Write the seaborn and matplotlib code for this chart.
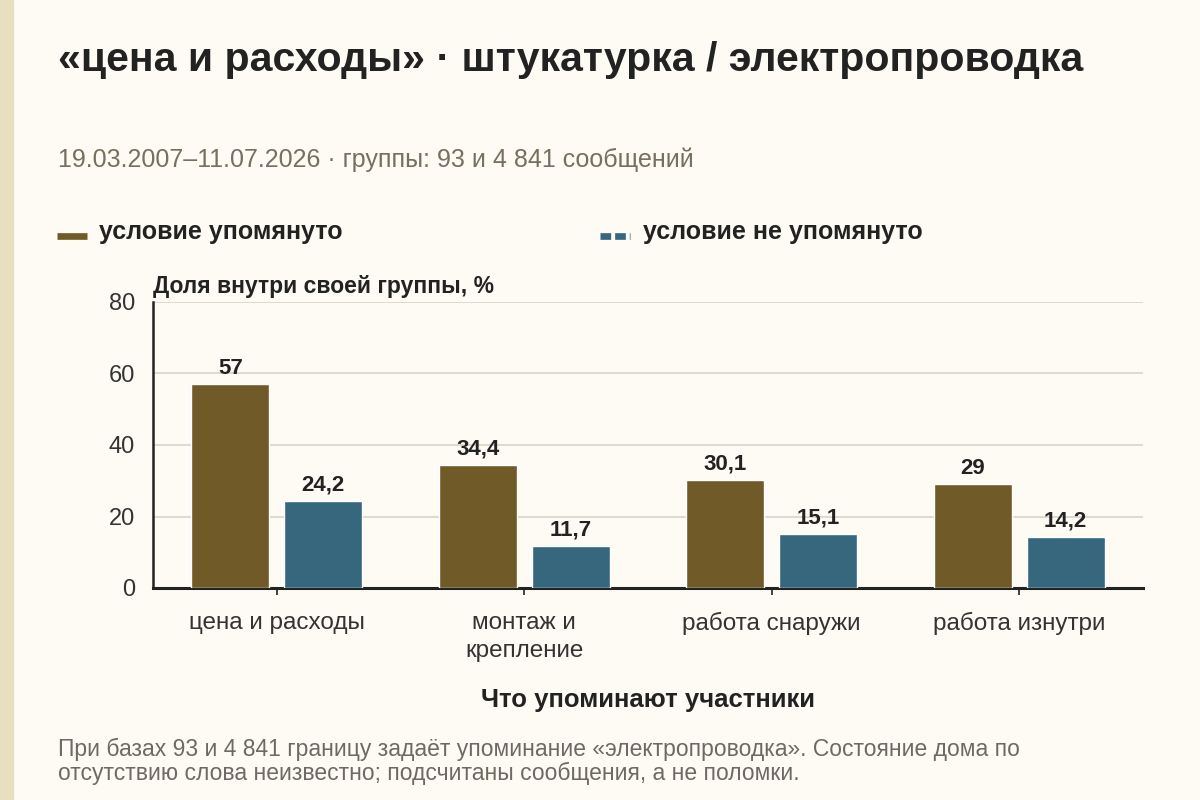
import pandas as pd
import matplotlib.pyplot as plt
import seaborn as sns
from matplotlib.lines import Line2D
from matplotlib.patches import Rectangle

# Data
categories = ['цена и расходы', 'монтаж и\nкрепление', 'работа снаружи', 'работа изнутри']
mentioned = [57, 34.4, 30.1, 29]
not_mentioned = [24.2, 11.7, 15.1, 14.2]
series = ['условие упомянуто', 'условие не упомянуто']
colors = ['#6f5a28', '#36677d']

df = pd.DataFrame({
    'category': categories * 2,
    'group': [series[0]] * 4 + [series[1]] * 4,
    'value': mentioned + not_mentioned,
})

bg = '#fdfbf3'
dark = '#222222'
sns.set_theme(style='white')
plt.rcParams['font.family'] = ['Liberation Sans', 'DejaVu Sans']

fig = plt.figure(figsize=(12, 8), dpi=100, facecolor=bg)
ax = fig.add_axes([0.1275, 0.265, 0.825, 0.3575])
ax.set_facecolor(bg)

# beige strip on the left edge
fig.add_artist(Rectangle((0, 0), 13 / 1200, 1, transform=fig.transFigure,
                         color='#e8dfc0', zorder=0))

sns.barplot(data=df, x='category', y='value', hue='group', palette=colors,
            width=0.75, gap=0.16, saturation=1, legend=False, ax=ax, zorder=3)

for cont in ax.containers:
    labels = [f'{b.get_height():g}'.replace('.', ',') for b in cont]
    ax.bar_label(cont, labels=labels, padding=4, fontsize=16,
                 fontweight='bold', color=dark)

ax.set_ylim(0, 80)
ax.set_xlim(-0.5, 3.5)
ax.set_yticks([0, 20, 40, 60, 80])
ax.yaxis.grid(True, color='#d8d4c8', linewidth=1.2, zorder=0)
ax.set_axisbelow(True)
for s in ['top', 'right']:
    ax.spines[s].set_visible(False)
ax.spines['left'].set_color(dark)
ax.spines['left'].set_linewidth(1.8)
ax.spines['bottom'].set_color(dark)
ax.spines['bottom'].set_linewidth(2.2)
ax.tick_params(axis='y', length=0, pad=13, labelsize=17, labelcolor='#333333')
ax.tick_params(axis='x', length=5, width=1.2, color=dark, pad=12,
               labelsize=17.5, labelcolor='#333333', bottom=True)
for lbl in ax.get_xticklabels():
    lbl.set_linespacing(1.4)
ax.set_xlabel('Что упоминают участники', fontsize=18.5, fontweight='bold',
              color=dark, va='center')
ax.xaxis.set_label_coords(0.5, -0.392)
ax.set_ylabel('')

fig.text(153 / 1200, 1 - 286 / 800, 'Доля внутри своей группы, %',
         fontsize=16.5, fontweight='bold', color=dark, ha='left', va='center')

# titles
fig.text(58 / 1200, 1 - 60 / 800, '«цена и расходы» · штукатурка / электропроводка',
         fontsize=29.5, fontweight='bold', color=dark, ha='left', va='center')
fig.text(58 / 1200, 1 - 160 / 800, '19.03.2007–11.07.2026 · группы: 93 и 4 841 сообщений',
         fontsize=18, color='#767060', ha='left', va='center')

# legend
ly = 1 - 236 / 800
fig.add_artist(Line2D([57 / 1200, 87 / 1200], [ly, ly], transform=fig.transFigure,
                      color=colors[0], linewidth=4.8, solid_capstyle='butt'))
fig.text(99 / 1200, 1 - 232 / 800, series[0], fontsize=18, fontweight='bold',
         color=dark, ha='left', va='center')
fig.add_artist(Line2D([600 / 1200, 630 / 1200], [ly, ly], transform=fig.transFigure,
                      color=colors[1], linewidth=4.8, linestyle=(0, (1.6, 0.6)),
                      dash_capstyle='butt'))
fig.text(643 / 1200, 1 - 232 / 800, series[1], fontsize=18, fontweight='bold',
         color=dark, ha='left', va='center')

# footnote
fig.text(58 / 1200, 1 - 761 / 800,
         'При базах 93 и 4 841 границу задаёт упоминание «электропроводка». Состояние дома по\n'
         'отсутствию слова неизвестно; подсчитаны сообщения, а не поломки.',
         fontsize=16.5, color='#6e6a60', ha='left', va='center', linespacing=1.05)

fig.savefig('out.png', dpi=100, facecolor=bg)
